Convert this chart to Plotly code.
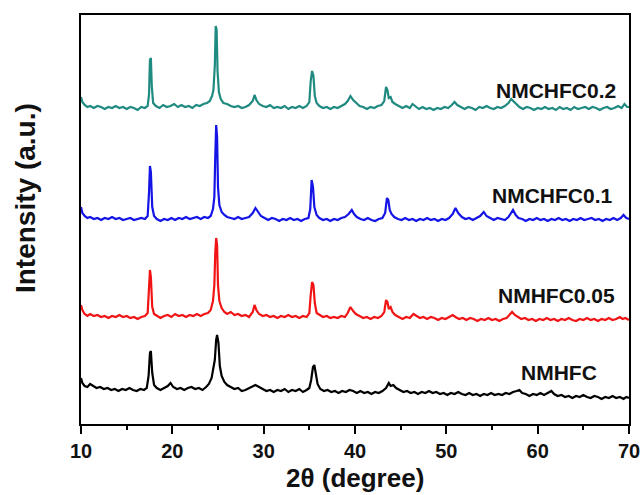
import plotly.graph_objects as go

# 2theta (deg), intensity relative to each pattern's offset (a.u.)
NMHFC = [(10.0, 10), (10.15, 5), (10.4, 2), (10.7, 1), (11.0, 4), (11.3, 2), (11.7, 0), (12.1, 1), (12.5, -1), (12.9, 0), (13.3, -2), (13.7, -1), (14.1, -3), (14.5, -1), (14.9, -2), (15.3, 0), (15.7, -2), (16.1, -3), (16.5, -1), (16.9, -2), (17.2, 0), (17.4, 12), (17.55, 35), (17.65, 37), (17.8, 15), (18.0, 3), (18.3, 0), (18.7, -2), (19.1, 0), (19.5, 2), (19.8, 5), (20.1, 1), (20.5, -1), (20.9, 0), (21.3, -2), (21.7, 0), (22.1, 1), (22.5, -1), (22.9, 0), (23.3, -2), (23.7, 1), (24.0, 4), (24.3, 10), (24.5, 22), (24.65, 28), (24.8, 48), (24.9, 53), (25.05, 45), (25.2, 22), (25.4, 12), (25.7, 6), (26.0, 3), (26.4, 1), (26.8, -1), (27.2, 0), (27.6, -3), (28.0, -2), (28.4, 0), (28.8, 2), (29.1, 3), (29.5, 1), (29.9, -1), (30.3, -3), (30.7, -2), (31.1, -4), (31.5, -2), (31.9, -3), (32.3, -1), (32.7, -4), (33.1, -2), (33.5, -3), (33.9, -1), (34.3, -4), (34.7, -2), (35.0, 0), (35.2, 8), (35.4, 21), (35.55, 23), (35.7, 14), (35.9, 4), (36.2, -1), (36.6, -3), (37.0, -2), (37.4, -4), (37.8, -3), (38.2, -5), (38.6, -3), (39.0, -4), (39.4, -2), (39.8, -3), (40.2, -5), (40.6, -3), (41.0, -5), (41.4, -4), (41.8, -6), (42.2, -4), (42.6, -5), (43.0, -3), (43.4, 0), (43.7, 5), (43.9, 2), (44.2, 3), (44.5, 0), (44.9, -2), (45.3, -4), (45.7, -3), (46.1, -5), (46.5, -4), (46.9, -6), (47.3, -4), (47.7, -5), (48.1, -3), (48.5, -5), (48.9, -4), (49.3, -6), (49.7, -5), (50.1, -7), (50.5, -5), (50.9, -6), (51.3, -4), (51.7, -6), (52.1, -7), (52.5, -5), (52.9, -7), (53.3, -6), (53.7, -8), (54.1, -6), (54.5, -7), (54.9, -5), (55.3, -7), (55.7, -6), (56.1, -7), (56.5, -5), (56.9, -6), (57.3, -4), (57.7, -3), (58.0, -2), (58.3, -5), (58.7, -6), (59.1, -8), (59.5, -6), (59.9, -7), (60.3, -5), (60.7, -7), (61.1, -5), (61.5, -3), (61.8, -6), (62.2, -8), (62.6, -7), (63.0, -9), (63.4, -8), (63.8, -10), (64.2, -8), (64.6, -9), (65.0, -7), (65.4, -9), (65.8, -10), (66.2, -8), (66.6, -9), (67.0, -11), (67.4, -9), (67.8, -10), (68.2, -8), (68.6, -10), (69.0, -9), (69.4, -11), (69.7, -9), (70.0, -10)]

NMHFC005 = [(10.0, 10), (10.15, 5), (10.4, 1), (10.7, -1), (11.0, 1), (11.4, -1), (11.8, 0), (12.2, -2), (12.6, -1), (13.0, -3), (13.4, -1), (13.8, -2), (14.2, 0), (14.6, -2), (15.0, -1), (15.4, -3), (15.8, -2), (16.2, -4), (16.6, -2), (17.0, -1), (17.3, 2), (17.45, 30), (17.55, 45), (17.65, 38), (17.8, 8), (18.0, 1), (18.3, -1), (18.7, -3), (19.1, -1), (19.5, 0), (19.9, -2), (20.3, 1), (20.7, -1), (21.1, 0), (21.5, -2), (21.9, 0), (22.3, -1), (22.7, 1), (23.1, -1), (23.5, 1), (23.9, 2), (24.2, 5), (24.45, 14), (24.6, 30), (24.7, 62), (24.8, 77), (24.9, 70), (25.0, 30), (25.15, 14), (25.4, 7), (25.7, 3), (26.0, 1), (26.4, 3), (26.8, 0), (27.2, 1), (27.6, -1), (28.0, 0), (28.4, -2), (28.8, 3), (29.0, 10), (29.2, 5), (29.5, 1), (29.9, -1), (30.3, 0), (30.7, -2), (31.1, -1), (31.5, -3), (31.9, -1), (32.3, -2), (32.7, 0), (33.1, -2), (33.5, -1), (33.9, -3), (34.3, -1), (34.7, -2), (35.0, 2), (35.15, 20), (35.3, 33), (35.45, 30), (35.6, 12), (35.8, 2), (36.1, 0), (36.5, -2), (36.9, -1), (37.3, -3), (37.7, -2), (38.1, -3), (38.5, -1), (38.9, -2), (39.2, 2), (39.5, 8), (39.8, 4), (40.1, 1), (40.5, -1), (40.9, -3), (41.3, -2), (41.7, -4), (42.1, -2), (42.5, -3), (42.9, -1), (43.2, 3), (43.4, 15), (43.55, 13), (43.7, 6), (43.9, 8), (44.1, 3), (44.4, 0), (44.8, -2), (45.2, -4), (45.6, -2), (46.0, -3), (46.4, 1), (46.7, -1), (47.1, -3), (47.5, -2), (47.9, -4), (48.3, -2), (48.7, -3), (49.1, -5), (49.5, -3), (49.9, -4), (50.3, -2), (50.7, 0), (51.0, -2), (51.4, -4), (51.8, -3), (52.2, -5), (52.6, -3), (53.0, -4), (53.4, -6), (53.8, -4), (54.2, -5), (54.6, -3), (55.0, -5), (55.4, -4), (55.8, -6), (56.2, -4), (56.6, -3), (56.9, 0), (57.2, 3), (57.5, 0), (57.8, -2), (58.2, -4), (58.6, -3), (59.0, -5), (59.4, -4), (59.8, -6), (60.2, -4), (60.6, -5), (61.0, -3), (61.4, -5), (61.8, -4), (62.2, -6), (62.6, -4), (63.0, -5), (63.4, -3), (63.8, -5), (64.2, -6), (64.6, -4), (65.0, -5), (65.4, -3), (65.8, -5), (66.2, -4), (66.6, -6), (67.0, -4), (67.4, -5), (67.8, -3), (68.2, -5), (68.6, -4), (69.0, -2), (69.3, -4), (69.6, -3), (70.0, -5)]

NMCHFC01 = [(10.0, 10), (10.15, 4), (10.4, 1), (10.7, -1), (11.0, 0), (11.4, -2), (11.8, -1), (12.2, -3), (12.6, -1), (13.0, -2), (13.4, 0), (13.8, -2), (14.2, -1), (14.6, -3), (15.0, -2), (15.4, -1), (15.8, -3), (16.2, -2), (16.6, -1), (17.0, -2), (17.3, 1), (17.45, 25), (17.55, 51), (17.65, 45), (17.8, 10), (18.0, 1), (18.3, -2), (18.7, -4), (19.1, -2), (19.5, -3), (19.9, -1), (20.3, -3), (20.7, -1), (21.1, -2), (21.5, 0), (21.9, -2), (22.3, -1), (22.7, 0), (23.1, -2), (23.5, 0), (23.9, -1), (24.2, 1), (24.45, 8), (24.6, 20), (24.7, 60), (24.8, 92), (24.9, 80), (25.0, 30), (25.15, 12), (25.4, 5), (25.7, 2), (26.0, 0), (26.4, -1), (26.8, -2), (27.2, 0), (27.6, -2), (28.0, -1), (28.4, 0), (28.8, 4), (29.1, 9), (29.4, 5), (29.7, 1), (30.1, -1), (30.5, -3), (30.9, -1), (31.3, -2), (31.7, -4), (32.1, -2), (32.5, -3), (32.9, -1), (33.3, -3), (33.7, -2), (34.1, -4), (34.5, -2), (34.9, -1), (35.1, 8), (35.25, 37), (35.4, 30), (35.55, 10), (35.8, 2), (36.1, -1), (36.5, -3), (36.9, -2), (37.3, -4), (37.7, -2), (38.1, -3), (38.5, -1), (38.9, 0), (39.3, 3), (39.65, 7), (39.9, 3), (40.2, 0), (40.6, -2), (41.0, -3), (41.4, -1), (41.8, -3), (42.2, -4), (42.6, -2), (43.0, -1), (43.3, 4), (43.5, 19), (43.65, 17), (43.8, 7), (44.0, 3), (44.3, 0), (44.7, -2), (45.1, -3), (45.5, -1), (45.9, -3), (46.3, -2), (46.7, -4), (47.1, -2), (47.5, -3), (47.9, -1), (48.3, -3), (48.7, -2), (49.1, -4), (49.5, -2), (49.9, -3), (50.3, -1), (50.7, 3), (51.0, 9), (51.3, 4), (51.7, 0), (52.1, -2), (52.5, -1), (52.9, -3), (53.3, -1), (53.7, 1), (54.1, 5), (54.4, 1), (54.8, -1), (55.2, -3), (55.6, -1), (56.0, -2), (56.4, -3), (56.8, 0), (57.1, 4), (57.3, 7), (57.6, 2), (57.9, -1), (58.3, -2), (58.7, -4), (59.1, -2), (59.5, -3), (59.9, -1), (60.3, -3), (60.7, -2), (61.1, -4), (61.5, -2), (61.9, -3), (62.3, -1), (62.7, -3), (63.1, -2), (63.5, -4), (63.9, -2), (64.3, -3), (64.7, -1), (65.1, -3), (65.5, -2), (65.9, -1), (66.3, -3), (66.7, -2), (67.1, -4), (67.5, -2), (67.9, -3), (68.3, -1), (68.7, -3), (69.1, -1), (69.4, 2), (69.7, -1), (70.0, -2)]

NMCHFC02 = [(10.0, 9), (10.15, 4), (10.4, 1), (10.7, -1), (11.0, 0), (11.4, -2), (11.8, 0), (12.2, -1), (12.6, -3), (13.0, -1), (13.4, -2), (13.8, 0), (14.2, -2), (14.6, -1), (15.0, -3), (15.4, -1), (15.8, -2), (16.2, -4), (16.6, -1), (17.0, -2), (17.3, 0), (17.45, 12), (17.55, 46), (17.65, 48), (17.75, 20), (17.9, 3), (18.2, 0), (18.6, -2), (19.0, 1), (19.4, -1), (19.8, 0), (20.2, 2), (20.6, -1), (21.0, 1), (21.4, -1), (21.8, 0), (22.2, -2), (22.6, 1), (23.0, 0), (23.4, 2), (23.8, 3), (24.1, 5), (24.35, 10), (24.5, 16), (24.65, 40), (24.75, 80), (24.85, 76), (24.95, 35), (25.1, 14), (25.3, 7), (25.6, 3), (26.0, 2), (26.4, 0), (26.8, -1), (27.2, 0), (27.6, -2), (28.0, -1), (28.4, 1), (28.8, 5), (29.0, 11), (29.2, 6), (29.5, 2), (29.9, 0), (30.3, -1), (30.7, 1), (31.1, -2), (31.5, -1), (31.9, -2), (32.3, 0), (32.7, -3), (33.1, -1), (33.5, -2), (33.9, 0), (34.3, -2), (34.7, 0), (35.0, 4), (35.15, 25), (35.3, 35), (35.45, 30), (35.6, 10), (35.8, 3), (36.1, 0), (36.5, -2), (36.9, -1), (37.3, -3), (37.7, -1), (38.1, -2), (38.5, 0), (38.9, 2), (39.2, 5), (39.5, 10), (39.8, 6), (40.1, 3), (40.5, 0), (40.9, -1), (41.3, -3), (41.7, -1), (42.1, -2), (42.5, 0), (42.9, 1), (43.2, 5), (43.4, 19), (43.55, 16), (43.7, 8), (43.9, 9), (44.1, 4), (44.4, 2), (44.8, 0), (45.2, -2), (45.6, 0), (46.0, -2), (46.3, 2), (46.6, 0), (47.0, -3), (47.4, -1), (47.8, -3), (48.2, -2), (48.6, -4), (49.0, -2), (49.4, -3), (49.8, -1), (50.2, -2), (50.6, 1), (50.9, 4), (51.2, 1), (51.6, -1), (52.0, -3), (52.4, -1), (52.8, -2), (53.2, -4), (53.6, -1), (54.0, -2), (54.4, 0), (54.8, -2), (55.2, -3), (55.6, -1), (56.0, -2), (56.4, 0), (56.8, 3), (57.1, 7), (57.4, 4), (57.7, 1), (58.0, -1), (58.4, -3), (58.8, -1), (59.2, -2), (59.6, -4), (60.0, -2), (60.4, -3), (60.8, -1), (61.2, -3), (61.6, -2), (62.0, -4), (62.4, -1), (62.8, -3), (63.2, -2), (63.6, -4), (64.0, -1), (64.4, -3), (64.8, -2), (65.2, -1), (65.6, -3), (66.0, -1), (66.4, -2), (66.8, -4), (67.2, -2), (67.6, -1), (68.0, -3), (68.4, -2), (68.8, 0), (69.2, -2), (69.5, 2), (69.8, -1), (70.0, -1)]

names = ["NMHFC", "NMHFC0.05", "NMCHFC0.1", "NMCHFC0.2"]
patterns = [NMHFC, NMHFC005, NMCHFC01, NMCHFC02]
offsets = [36, 109, 207, 318]
colors = ["#000000", "#f01414", "#1414e6", "#1f8a80"]

FONT = "Arial, 'Liberation Sans', sans-serif"

fig = go.Figure()
for name, pat, off, col in zip(names, patterns, offsets, colors):
    xs = [p[0] for p in pat]
    ys = [p[1] + off for p in pat]
    fig.add_trace(go.Scatter(x=xs, y=ys, mode="lines", name=name,
                             line=dict(color=col, width=2.2), showlegend=False))

label_pos = [(66.7, 52), (68.7, 129), (68.4, 229), (68.8, 334)]
for name, (lx, ly) in zip(names, label_pos):
    fig.add_annotation(x=lx, y=ly, xref="x", yref="y", text="<b>%s</b>" % name,
                       showarrow=False, xanchor="right", yanchor="middle",
                       font=dict(family=FONT, size=21, color="#111111"))

fig.add_annotation(x=-0.1, y=0.553, xref="paper", yref="paper", textangle=-90,
                   text="<b>Intensity (a.u.)</b>", showarrow=False,
                   xanchor="center", yanchor="middle",
                   font=dict(family=FONT, size=28, color="#111111"))
fig.add_annotation(x=0.5, y=-0.132, xref="paper", yref="paper",
                   text="<b>2θ (degree)</b>", showarrow=False,
                   xanchor="center", yanchor="middle",
                   font=dict(family=FONT, size=26, color="#111111"))

fig.update_layout(
    width=644, height=495,
    margin=dict(l=81, r=15, t=15, b=71, autoexpand=False),
    paper_bgcolor="white", plot_bgcolor="white",
    xaxis=dict(range=[10, 70], tickvals=[10, 20, 30, 40, 50, 60, 70],
               automargin=False,
               ticks="outside", ticklen=8, tickwidth=2, tickcolor="black",
               showline=True, linewidth=2, linecolor="black", mirror=True,
               showgrid=False, zeroline=False,
               tickfont=dict(family=FONT, size=20, color="#111111", weight="bold"),
               minor=dict(tickvals=[15, 25, 35, 45, 55, 65], ticks="outside",
                          ticklen=4, tickwidth=2, tickcolor="black")),
    yaxis=dict(range=[0, 409], showticklabels=False, ticks="", automargin=False,
               showline=True, linewidth=2, linecolor="black", mirror=True,
               showgrid=False, zeroline=False),
)

fig.write_html("out.html", config={"displayModeBar": False},
               post_script="document.body.style.margin='0';document.body.style.overflow='hidden';")
